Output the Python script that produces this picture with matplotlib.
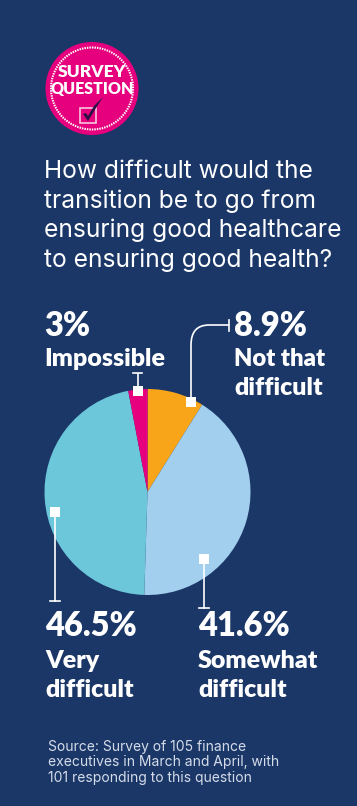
import matplotlib
matplotlib.use("Agg")
import matplotlib.pyplot as plt
from matplotlib.patches import Circle, Rectangle, PathPatch
from matplotlib.path import Path

categories = ["Not that difficult", "Somewhat difficult", "Very difficult", "Impossible"]
values = [8.9, 41.6, 46.5, 3.0]
value_labels = ["8.9%", "41.6%", "46.5%", "3%"]
colors = ["#F9A51A", "#A3CFEE", "#6CC7DA", "#E6007E"]
title_lines = ["How difficult would the", "transition be to go from",
               "ensuring good healthcare", "to ensuring good health?"]
source_lines = ["Source: Survey of 105 finance", "executives in March and April, with",
                "101 responding to this question"]

W, H = 357, 806
BG = "#1A3768"

fig = plt.figure(figsize=(W/100, H/100), dpi=100, facecolor=BG)

# pie
cx, cy, r = 147.5, 492, 103
pad = 1.02
pax = fig.add_axes([(cx - r*pad)/W, 1 - (cy + r*pad)/H, 2*r*pad/W, 2*r*pad/H])
pax.pie(values, colors=colors, startangle=90, counterclock=False, radius=1,
        wedgeprops=dict(linewidth=0))
pax.set_xlim(-pad, pad)
pax.set_ylim(-pad, pad)
pax.axis("off")

# overlay in pixel coordinates
ax = fig.add_axes([0, 0, 1, 1], facecolor="none")
ax.set_xlim(0, W)
ax.set_ylim(H, 0)
ax.axis("off")

# badge
bx, by = 92, 88.5
ax.add_patch(Circle((bx, by), 46.5, fc="#E6007E", ec="none"))
ax.add_patch(Circle((bx, by), 41, fc="none", ec="white", lw=1.5, ls=(0, (0.7, 0.5))))
ax.text(bx, 72, "SURVEY", color="white", family="Lato", weight="heavy", fontsize=12.5, ha="center", va="center")
ax.text(bx, 89, "QUESTION", color="white", family="Lato", weight="heavy", fontsize=11.5, ha="center", va="center")
ax.add_patch(Rectangle((79.5, 108), 16, 15, fc="none", ec="#F7C6E0", lw=1.2))
ax.add_patch(PathPatch(Path([(83, 114), (86, 113), (88, 116), (94, 106), (103, 97), (96, 108), (88, 121), (83, 114)]),
                       fc="#2A1145", ec="none"))

# title
for i, line in enumerate(title_lines):
    ax.text(44.5, 172 + i*29.3, line, color="white", family="Inter", fontsize=17.7,
            ha="left", va="center")

# leader lines
lc = "white"
lw = 1.2
ax.plot([137.5, 137.5], [373, 389], color=lc, lw=lw, solid_capstyle="butt")
ax.plot([133, 142], [373, 373], color=lc, lw=lw)
ax.add_patch(Rectangle((133, 386), 10, 10, fc="white", ec="none"))

ax.add_patch(PathPatch(Path([(191, 403), (191, 345), (191, 325), (209, 325), (229, 325)],
                            [Path.MOVETO, Path.LINETO, Path.CURVE3, Path.CURVE3, Path.LINETO]),
                       fc="none", ec=lc, lw=lw))
ax.plot([229, 229], [320, 331], color=lc, lw=lw)
ax.add_patch(Rectangle((186, 397), 10, 10, fc="white", ec="none"))

ax.plot([55, 55], [512, 601], color=lc, lw=lw)
ax.plot([50, 60], [601, 601], color=lc, lw=lw)
ax.add_patch(Rectangle((50, 507), 10, 10, fc="white", ec="none"))

ax.plot([204, 204], [558, 608], color=lc, lw=lw)
ax.plot([199, 209], [608, 608], color=lc, lw=lw)
ax.add_patch(Rectangle((199, 554), 10, 10, fc="white", ec="none"))

# labels
def lab(x, y, s, size):
    ax.text(x, y, s, color="white", family="Lato", weight="heavy", fontsize=size, ha="left", va="center")

big, small = 23.5, 18
lab(44, 326, value_labels[3], big)
lab(44, 359, "Impossible", small)
lab(234, 326, value_labels[0], big)
lab(234, 359, "Not that", 17.2)
lab(234, 388, "difficult", small)
lab(45, 626, value_labels[2], big)
lab(45, 661, "Very", small)
lab(45, 690, "difficult", small)
lab(198, 626, value_labels[1], big)
lab(198, 661, "Somewhat", small)
lab(198, 690, "difficult", small)

for i, line in enumerate(source_lines):
    ax.text(48, 747 + i*15.3, line, color="#D5DCE8", family="Inter", fontsize=10, ha="left", va="center")

fig.savefig("out.png", dpi=100, facecolor=BG)
